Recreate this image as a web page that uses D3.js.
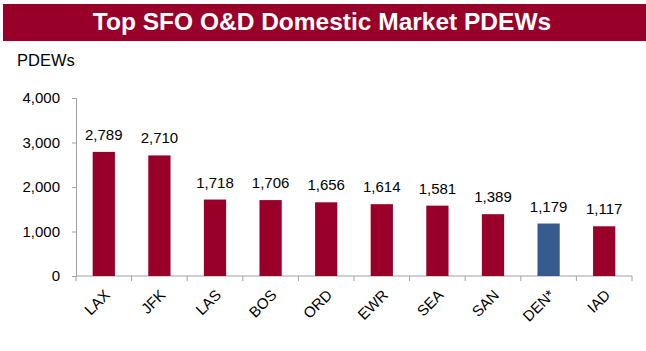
<!DOCTYPE html>
<html>
<head>
<meta charset="utf-8">
<script src="https://cdn.jsdelivr.net/npm/d3@7"></script>
<style>
  body { margin: 0; background: #fff; }
  text { font-family: "Liberation Sans", Arial, sans-serif; }
</style>
</head>
<body>
<svg id="chart" width="646" height="351"></svg>
<script>
  var markets = ["LAX", "JFK", "LAS", "BOS", "ORD", "EWR", "SEA", "SAN", "DEN*", "IAD"];
  var pdews = [2789, 2710, 1718, 1706, 1656, 1614, 1581, 1389, 1179, 1117];
  var highlight = ["DEN*"];
  var y_ticks = [0, 1000, 2000, 3000, 4000];

  var red = "#990029", blue = "#365b8c", axis_grey = "#a0a0a0";

  var margin = {top: 98, right: 14, bottom: 75, left: 76},
    width = 646 - margin.left - margin.right,
    height = 351 - margin.top - margin.bottom;

  var svg = d3.select("#chart");

  // title banner
  svg.append("rect")
    .attr("x", 3).attr("y", 4)
    .attr("width", 643).attr("height", 37)
    .style("fill", red);

  svg.append("text")
    .attr("x", 322).attr("y", 30)
    .attr("text-anchor", "middle")
    .style("font", "bold 24.5px 'Liberation Sans', Arial, sans-serif")
    .style("fill", "#fff")
    .text("Top SFO O&D Domestic Market PDEWs");

  svg.append("text")
    .attr("x", 17).attr("y", 66)
    .style("font-size", "16.5px")
    .text("PDEWs");

  var x_scaler = d3.scaleBand()
    .domain(markets)
    .range([0, width])
    .paddingInner(0.6)
    .paddingOuter(0.3);

  var y_scaler = d3.scaleLinear()
    .domain([0, 4000])
    .range([height, 0]);

  var chart = svg.append("g")
    .attr("transform", "translate(" + margin.left + "," + margin.top + ")");

  var y_axis = chart.append("g")
    .call(d3.axisLeft(y_scaler).tickValues(y_ticks).tickSize(4).tickPadding(12)
      .tickFormat(d3.format(",")));
  y_axis.selectAll("text").style("font-size", "15px").style("fill", "#000")
    .style("font-family", "'Liberation Sans', Arial, sans-serif");
  y_axis.selectAll("line, path").style("stroke", axis_grey);

  // x axis: ticks between categories
  var bounds = d3.range(markets.length + 1).map(function(i) { return i * width / markets.length; });
  chart.append("line")
    .attr("x1", 0).attr("x2", width)
    .attr("y1", height).attr("y2", height)
    .style("stroke", axis_grey);
  chart.selectAll(".xtick")
    .data(bounds)
    .enter().append("line")
    .attr("class", "xtick")
    .attr("x1", function(d) { return d; }).attr("x2", function(d) { return d; })
    .attr("y1", height).attr("y2", height + 5)
    .style("stroke", axis_grey);

  var data = markets.map(function(m, i) { return {market: m, value: pdews[i]}; });

  chart.selectAll(".bar")
    .data(data)
    .enter().append("rect")
    .attr("class", "bar")
    .attr("x", function(d) { return x_scaler(d.market); })
    .attr("y", function(d) { return y_scaler(d.value); })
    .attr("width", x_scaler.bandwidth())
    .attr("height", function(d) { return height - y_scaler(d.value); })
    .style("fill", function(d) { return highlight.indexOf(d.market) >= 0 ? blue : red; });

  chart.selectAll(".bar-label")
    .data(data)
    .enter().append("text")
    .attr("class", "bar-label")
    .attr("x", function(d) { return x_scaler(d.market) + x_scaler.bandwidth() / 2; })
    .attr("y", function(d) { return y_scaler(d.value) - 12; })
    .attr("text-anchor", "middle")
    .style("font-size", "15px")
    .text(function(d) { return d3.format(",")(d.value); });

  chart.selectAll(".x-label")
    .data(markets)
    .enter().append("text")
    .attr("class", "x-label")
    .attr("text-anchor", "end")
    .attr("transform", function(d) {
      return "translate(" + (x_scaler(d) + x_scaler.bandwidth() / 2 + 7) + "," + (height + 20) + ") rotate(-45)";
    })
    .style("font-size", "15px")
    .text(function(d) { return d; });
</script>
</body>
</html>
